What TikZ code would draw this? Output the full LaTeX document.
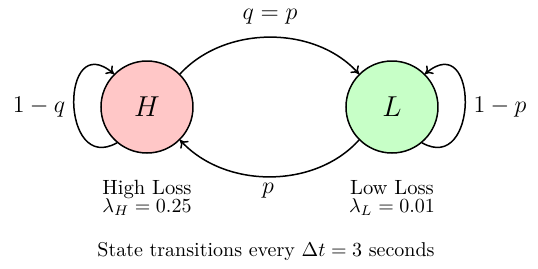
\documentclass[tikz,border=0pt]{standalone}
\usetikzlibrary{arrows.meta}
\begin{document}
\begin{tikzpicture}[x=0.5pt,y=-0.5pt,
  state/.style={circle,draw,line width=0.75pt,minimum size=46pt,inner sep=0pt,font=\Large},
  conn/.style={line width=0.75pt,-{To[length=3.6pt,width=5.5pt]}},
  lbl/.style={font=\large},
  info/.style={anchor=base,inner sep=0pt,font=\fontsize{10.3}{12}\selectfont},
  foottext/.style={anchor=base,inner sep=0pt}]
\useasboundingbox (0,0) rectangle (538,269);
\node[state,fill=red!22] (H) at (147,107) {$H$};
\node[state,fill=green!22] (L) at (392,107) {$L$};
% transitions
\draw[conn] (H.45) .. controls (225,25) and (315,25) .. (L.135);
\draw[conn] (L.225) .. controls (315,189) and (225,189) .. (H.315);
\draw[conn] (H.230) .. controls (60,175) and (60,28) .. (H.135);
\draw[conn] (L.310) .. controls (479,175) and (479,28) .. (L.45);
% labels
\node[lbl] (lqp) at (270,17) {$q = p$};
\node[lbl] (lp) at (268,191) {$p$};
\node[lbl] (lq1) at (39,107) {$1 - q$};
\node[lbl] (lp1) at (500,107) {$1 - p$};
\node[info] (hl) at (147,194.5) {High Loss};
\node[info] (hlam) at (147,212.5) {$\lambda_H = 0.25$};
\node[info] (ll) at (392,194.5) {Low Loss};
\node[info] (llam) at (392,212.5) {$\lambda_L = 0.01$};
\node[foottext] (foot) at (266,256) {State transitions every $\Delta t = 3$ seconds};
\end{tikzpicture}
\end{document}
